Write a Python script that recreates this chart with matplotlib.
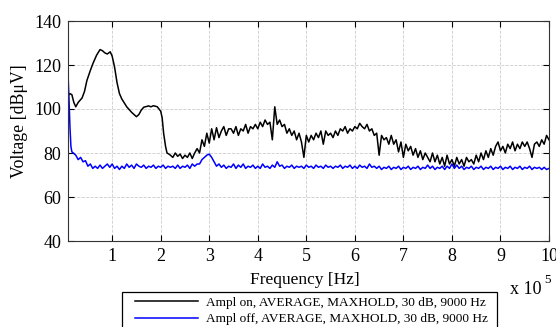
import matplotlib
matplotlib.use("Agg")
import matplotlib.pyplot as plt
from matplotlib.patches import Rectangle
import numpy as np

plt.rcParams['font.family'] = ['Liberation Serif', 'DejaVu Serif']
plt.rcParams['mathtext.fontset'] = 'stix'

# Frequency in units of 1e5 Hz
on_freq_head = [0.09, 0.13, 0.17, 0.21, 0.25, 0.3, 0.38, 0.43, 0.48, 0.55, 0.61, 0.68, 0.75, 0.8,
                0.85, 0.9, 0.96, 1.0, 1.05, 1.1, 1.15, 1.2, 1.3, 1.4, 1.5, 1.55, 1.6, 1.65, 1.75,
                1.8, 1.85, 1.93, 2.0, 2.03, 2.06, 2.1, 2.13, 2.17]
on_vals_head = [106, 107, 106.5, 103, 101, 103, 105, 108, 113, 117.5, 121, 124.5, 127, 126.5,
                125.5, 125, 126, 124, 119, 112, 107, 104.5, 101, 98.5, 96.5, 97.5, 99.5, 100.8, 101.4,
                101, 101.5, 101, 99, 96, 89, 83, 80, 79.5]
on_freq_tail = [2.2, 2.25, 2.3, 2.35, 2.4, 2.45, 2.5, 2.55, 2.6, 2.65, 2.7, 2.75, 2.8, 2.85, 2.9, 2.95,
                3.0, 3.05, 3.1, 3.15, 3.2, 3.25, 3.3, 3.35, 3.4, 3.45, 3.5, 3.55, 3.6, 3.65, 3.7, 3.75,
                3.8, 3.85, 3.9, 3.95, 4.0, 4.05, 4.1, 4.15, 4.2, 4.25, 4.3, 4.35, 4.4, 4.45, 4.5, 4.55,
                4.6, 4.65, 4.7, 4.75, 4.8, 4.85, 4.9, 4.95, 5.0, 5.05, 5.1, 5.15, 5.2, 5.25, 5.3, 5.35,
                5.4, 5.45, 5.5, 5.55, 5.6, 5.65, 5.7, 5.75, 5.8, 5.85, 5.9, 5.95, 6.0, 6.05, 6.1, 6.15,
                6.2, 6.25, 6.3, 6.35, 6.4, 6.45, 6.5, 6.55, 6.6, 6.65, 6.7, 6.75, 6.8, 6.85, 6.9, 6.95,
                7.0, 7.05, 7.1, 7.15, 7.2, 7.25, 7.3, 7.35, 7.4, 7.45, 7.5, 7.55, 7.6, 7.65, 7.7, 7.75,
                7.8, 7.85, 7.9, 7.95, 8.0, 8.05, 8.1, 8.15, 8.2, 8.25, 8.3, 8.35, 8.4, 8.45, 8.5, 8.55,
                8.6, 8.65, 8.7, 8.75, 8.8, 8.85, 8.9, 8.95, 9.0, 9.05, 9.1, 9.15, 9.2, 9.25, 9.3, 9.35,
                9.4, 9.45, 9.5, 9.55, 9.6, 9.65, 9.7, 9.75, 9.8, 9.85, 9.9, 9.95, 10.0]
on_vals_tail = [79, 78, 80, 78.5, 79.5, 77.5, 79, 78, 80, 77.5, 80, 82, 80, 86, 83, 89,
                84.5, 91, 86, 91.5, 87, 90, 92, 88, 91, 91, 89, 92, 88, 91, 90, 93,
                89, 92, 91, 93, 91, 94, 92, 95, 93, 94, 86, 101, 93, 95, 92, 93,
                89, 91, 88, 90, 86, 89, 85, 78, 88, 85, 88, 86, 89, 87, 90, 84,
                90, 88, 89, 87, 90, 88, 91, 90, 92, 89, 91, 90, 92, 91, 93.5, 92,
                91, 93, 90, 91, 88, 89, 79, 88, 86, 87, 84, 88, 84, 86, 80.5, 85,
                78, 84, 81, 83, 79, 82, 78, 81, 77, 80, 78, 76, 80, 76, 79, 75,
                78, 74, 79, 75, 77, 74, 78, 75, 77, 74, 78, 76, 77, 75, 79, 76,
                80, 77, 81, 78, 82, 79, 83, 85, 81, 83, 80, 84, 82, 85, 81, 84,
                82, 85, 83, 85, 82, 78, 84, 85, 83, 86, 84, 88, 86]

off_freq = [0.09, 0.11, 0.13, 0.15, 0.17, 0.2, 0.25, 0.3, 0.35, 0.4, 0.45, 0.5, 0.55, 0.6, 0.65, 0.7, 0.75,
            0.8, 0.85, 0.9, 0.95, 1.0, 1.05, 1.1, 1.15, 1.2, 1.25, 1.3, 1.35, 1.4, 1.45, 1.5, 1.55,
            1.6, 1.65, 1.7, 1.75, 1.8, 1.85, 1.9, 1.95, 2.0, 2.05, 2.1, 2.15, 2.2, 2.25, 2.3, 2.35,
            2.4, 2.45, 2.5, 2.55, 2.6, 2.65, 2.7, 2.75, 2.8, 2.85, 2.9, 2.95, 3.0, 3.05, 3.1, 3.15,
            3.2, 3.25, 3.3, 3.35, 3.4, 3.45, 3.5, 3.55, 3.6, 3.65, 3.7, 3.75, 3.8, 3.85, 3.9, 3.95,
            4.0, 4.05, 4.1, 4.15, 4.2, 4.25, 4.3, 4.35, 4.4, 4.45, 4.5, 4.55, 4.6, 4.65, 4.7, 4.75,
            4.8, 4.85, 4.9, 4.95, 5.0, 5.05, 5.1, 5.15, 5.2, 5.25, 5.3, 5.35, 5.4, 5.45, 5.5, 5.55,
            5.6, 5.65, 5.7, 5.75, 5.8, 5.85, 5.9, 5.95, 6.0, 6.05, 6.1, 6.15, 6.2, 6.25, 6.3, 6.35,
            6.4, 6.45, 6.5, 6.55, 6.6, 6.65, 6.7, 6.75, 6.8, 6.85, 6.9, 6.95, 7.0, 7.05, 7.1, 7.15,
            7.2, 7.25, 7.3, 7.35, 7.4, 7.45, 7.5, 7.55, 7.6, 7.65, 7.7, 7.75, 7.8, 7.85, 7.9, 7.95,
            8.0, 8.05, 8.1, 8.15, 8.2, 8.25, 8.3, 8.35, 8.4, 8.45, 8.5, 8.55, 8.6, 8.65, 8.7, 8.75,
            8.8, 8.85, 8.9, 8.95, 9.0, 9.05, 9.1, 9.15, 9.2, 9.25, 9.3, 9.35, 9.4, 9.45, 9.5, 9.55,
            9.6, 9.65, 9.7, 9.75, 9.8, 9.85, 9.9, 9.95, 10.0]
off_vals = [116, 105, 92, 83, 80.5, 80, 79, 77, 78, 76, 76.5, 74, 75, 73, 74, 73, 74.5,
            73, 74, 75, 73.5, 75, 73, 74, 72.5, 74, 73, 75, 73.5, 74.5, 73, 75, 74,
            73.5, 74.5, 73, 74, 73.5, 74.5, 73, 74, 73.5, 74.5, 73, 74, 73.5, 74, 73, 74.5,
            73, 74, 73.5, 74.5, 73, 75, 74, 75, 75, 77, 78, 79, 79.5, 78, 76, 74,
            75, 73.5, 74.5, 73, 74, 73.5, 75, 73, 74.5, 73.5, 75, 73, 74, 73.5, 74.5, 73,
            74, 73, 75, 73.5, 74, 73, 74.5, 73.5, 76, 74, 74.5, 73, 74, 73.5, 74.5, 73,
            74, 73.5, 74, 73, 74.5, 73.5, 74, 73, 74.5, 73.5, 74, 73, 74.5, 73.5, 74, 73,
            74, 73.5, 74.5, 73, 74, 73.5, 74.5, 73, 74, 73, 74.5, 73.5, 74, 73, 75, 73.5,
            74, 73, 74, 72.5, 73.5, 73, 74, 72.5, 73.5, 73, 74, 72.5, 73.5, 73, 74, 72.5,
            73.5, 73, 74, 72.5, 73.5, 73, 74.5, 73, 74, 72.5, 73.5, 73, 74, 72.5, 74, 73,
            75, 73, 74.5, 73, 74, 72.5, 73.5, 73, 74, 72.5, 73.5, 73, 74, 72.5, 73.5, 73,
            74, 72.5, 73.5, 73, 74, 72.5, 73.5, 73, 74, 72.5, 73.5, 73, 74, 72.5, 73.5, 73,
            74, 72.5, 73.5, 73, 73.5, 72.5, 73.5, 72.5, 73]

x_ticks = [1, 2, 3, 4, 5, 6, 7, 8, 9, 10]
y_ticks = [40, 60, 80, 100, 120, 140]
labels = ['Ampl on, AVERAGE, MAXHOLD, 30 dB, 9000 Hz',
          'Ampl off, AVERAGE, MAXHOLD, 30 dB, 9000 Hz']

on_freq = on_freq_head + on_freq_tail
on_vals = on_vals_head + on_vals_tail

W, H = 556, 327
fig = plt.figure(figsize=(W/100, H/100), dpi=100)
ax = fig.add_axes([68/W, 1-241/H, (549-68)/W, (241-21)/H])

ax.plot(np.array(on_freq) * 1e5, on_vals, color='black', lw=1.1, label=labels[0])
ax.plot(np.array(off_freq) * 1e5, off_vals, color='blue', lw=1.1, label=labels[1])

ax.set_xlim(9000, 1e6)
ax.set_ylim(40, 140)
ax.set_xticks([t * 1e5 for t in x_ticks])
ax.set_xticklabels([str(t) for t in x_ticks])
ax.set_yticks(y_ticks)
ax.tick_params(direction='in', top=True, right=True, labelsize=13, length=4, width=0.8, pad=5)
ax.grid(True, color='#cccccc', linestyle='--', linewidth=0.6)
for s in ax.spines.values():
    s.set_linewidth(0.8)
    s.set_color('#333333')

ax.set_xlabel('Frequency [Hz]', fontsize=12.5)
ax.xaxis.set_label_coords((305-68)/481, (241-280)/220)
ax.xaxis.label.set_va('center')
ax.set_ylabel('Voltage [dBμV]', fontsize=12.8)
ax.yaxis.set_label_coords((20-68)/481, (241-121)/220)
ax.yaxis.label.set_va('center')

fig.text(542/W, 1-290/H, 'x 10', fontsize=13, ha='right', va='center')
fig.text(544/W, 1-280/H, '5', fontsize=9.5, ha='left', va='center')

# legend without frame, frame drawn separately
leg = fig.legend(loc='center left', bbox_to_anchor=(135/W, 1-311/H), fontsize=9.5,
                 frameon=False, handlelength=4.75, handletextpad=0.6,
                 borderpad=0, labelspacing=0.33, borderaxespad=0)
fig.patches.append(Rectangle((122/W, -0.05), (497-122)/W, 0.05 + 1-292/H,
                             transform=fig.transFigure, fill=False,
                             edgecolor='black', linewidth=0.9))

fig.savefig('out.png', dpi=100)
